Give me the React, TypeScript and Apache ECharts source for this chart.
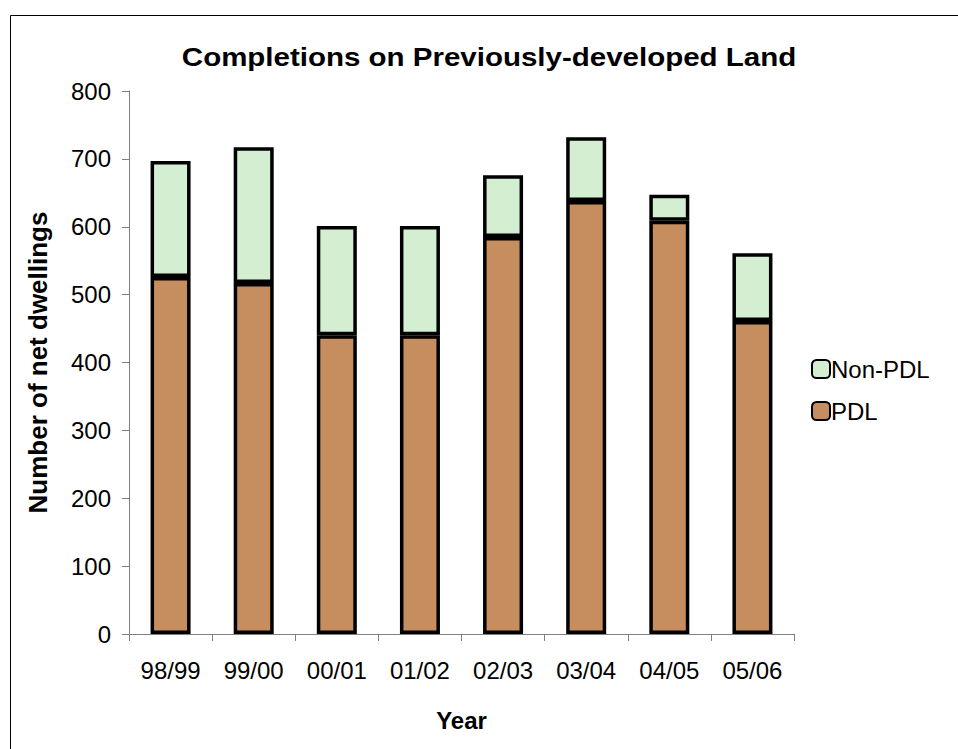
import React, { useEffect, useRef } from "react";
import * as echarts from "echarts";

const years = ["98/99", "99/00", "00/01", "01/02", "02/03", "03/04", "04/05", "05/06"];
const pdl = [526, 517, 440, 440, 585, 638, 609, 461];
const nonPdl = [171, 200, 161, 161, 91, 94, 38, 100];
const yTicks = { min: 0, max: 800, interval: 100 };
const titleText = "Completions on Previously-developed Land";

export default function App() {
  const ref = useRef<HTMLDivElement>(null);
  useEffect(() => {
    document.body.style.margin = "0";
    const chart = echarts.init(ref.current!, null, { renderer: "svg" });
    const font = "Arial, 'Liberation Sans', sans-serif";
    chart.setOption({
      animation: false,
      backgroundColor: "#ffffff",
      textStyle: { fontFamily: font },
      grid: { left: 129, right: 164, top: 91, bottom: 115 },
      legend: {
        orient: "vertical",
        left: 806,
        top: 352,
        itemWidth: 18,
        itemHeight: 18,
        itemGap: 18,
        data: ["Non-PDL", "PDL"],
        textStyle: { fontSize: 24, color: "#000", fontFamily: font, padding: [0, 0, 0, -4] },
      },
      xAxis: {
        type: "category",
        data: years,
        name: "Year",
        nameLocation: "middle",
        nameGap: 74,
        nameTextStyle: { fontSize: 24, fontWeight: "bold", color: "#000" },
        axisLine: { lineStyle: { color: "#808080", width: 1 } },
        axisTick: { show: true, length: 7, lineStyle: { color: "#808080" } },
        axisLabel: { fontSize: 24, color: "#000", margin: 24 },
      },
      yAxis: {
        type: "value",
        min: yTicks.min,
        max: yTicks.max,
        interval: yTicks.interval,
        name: "Number of net dwellings",
        nameLocation: "middle",
        nameGap: 78,
        nameTextStyle: { fontSize: 26, fontWeight: "bold", color: "#000" },
        axisLine: { show: true, lineStyle: { color: "#808080", width: 1 } },
        axisTick: { show: true, length: 7, lineStyle: { color: "#808080" } },
        axisLabel: { fontSize: 24, color: "#000", margin: 18 },
        splitLine: { show: false },
      },
      series: [
        {
          name: "PDL",
          type: "bar",
          stack: "total",
          data: pdl,
          barWidth: 40,
          itemStyle: { color: "#C68D5E", borderColor: "#000", borderWidth: 3.5 },
        },
        {
          name: "Non-PDL",
          type: "bar",
          stack: "total",
          data: nonPdl,
          barWidth: 40,
          itemStyle: { color: "#D4EED2", borderColor: "#000", borderWidth: 3.5 },
        },
      ],
      graphic: [
        {
          type: "rect",
          shape: { x: 10.5, y: 15.5, width: 1000, height: 1000 },
          style: { fill: "none", stroke: "#000", lineWidth: 1 },
          silent: true,
        },
        {
          type: "text",
          x: 489,
          y: 57,
          scaleX: 1.18,
          style: {
            text: titleText,
            font: "bold 25px Arial, 'Liberation Sans', sans-serif",
            fill: "#000",
            textAlign: "center",
            textVerticalAlign: "middle",
          },
          silent: true,
        },
      ],
    });
    return () => chart.dispose();
  }, []);
  return <div ref={ref} style={{ width: 958, height: 749 }} />;
}
